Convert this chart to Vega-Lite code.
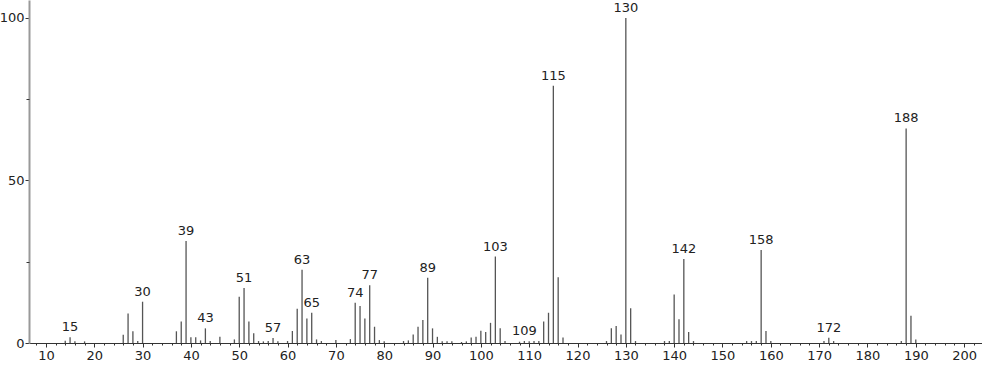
{
  "$schema": "https://vega.github.io/schema/vega-lite/v6.json",
  "width": 953,
  "height": 343,
  "autosize": {"type": "none"},
  "padding": {"left": 29, "top": 0, "right": 0, "bottom": 22},
  "background": "white",
  "config": {"view": {"stroke": null}, "font": "DejaVu Sans"},
  "data": {"values": [
    {"mz": 14, "i": 0.7}, {"mz": 15, "i": 1.8, "lab": "15"}, {"mz": 16, "i": 0.5}, {"mz": 18, "i": 0.5},
    {"mz": 26, "i": 2.5}, {"mz": 27, "i": 9.1}, {"mz": 28, "i": 3.6}, {"mz": 29, "i": 0.6}, {"mz": 30, "i": 12.7, "lab": "30"},
    {"mz": 37, "i": 3.6}, {"mz": 38, "i": 6.6}, {"mz": 39, "i": 31.4, "lab": "39"}, {"mz": 40, "i": 1.8}, {"mz": 41, "i": 1.8},
    {"mz": 42, "i": 0.8}, {"mz": 43, "i": 4.5, "lab": "43"}, {"mz": 44, "i": 0.6}, {"mz": 46, "i": 1.9}, {"mz": 49, "i": 1.1},
    {"mz": 50, "i": 14.2}, {"mz": 51, "i": 16.9, "lab": "51"}, {"mz": 52, "i": 6.6}, {"mz": 53, "i": 3.0}, {"mz": 54, "i": 0.6},
    {"mz": 55, "i": 0.5}, {"mz": 56, "i": 0.6}, {"mz": 57, "i": 1.5, "lab": "57"}, {"mz": 58, "i": 0.5}, {"mz": 60, "i": 0.6},
    {"mz": 61, "i": 3.7}, {"mz": 62, "i": 10.5}, {"mz": 63, "i": 22.5, "lab": "63"}, {"mz": 64, "i": 7.5}, {"mz": 65, "i": 9.3, "lab": "65"},
    {"mz": 66, "i": 1.1}, {"mz": 67, "i": 0.6}, {"mz": 70, "i": 0.9}, {"mz": 73, "i": 1.2}, {"mz": 74, "i": 12.4, "lab": "74"},
    {"mz": 75, "i": 11.4}, {"mz": 76, "i": 7.5}, {"mz": 77, "i": 17.8, "lab": "77"}, {"mz": 78, "i": 5.0}, {"mz": 79, "i": 0.9},
    {"mz": 80, "i": 0.5}, {"mz": 84, "i": 0.6}, {"mz": 85, "i": 0.8}, {"mz": 86, "i": 2.6}, {"mz": 87, "i": 5.0}, {"mz": 88, "i": 7.1},
    {"mz": 89, "i": 20.1, "lab": "89"}, {"mz": 90, "i": 4.5}, {"mz": 91, "i": 1.9}, {"mz": 92, "i": 0.5}, {"mz": 93, "i": 0.5},
    {"mz": 94, "i": 0.5}, {"mz": 96, "i": 0.3}, {"mz": 97, "i": 0.5}, {"mz": 98, "i": 1.7}, {"mz": 99, "i": 1.9}, {"mz": 100, "i": 3.8},
    {"mz": 101, "i": 3.4}, {"mz": 102, "i": 6.2}, {"mz": 103, "i": 26.6, "lab": "103"}, {"mz": 104, "i": 4.5}, {"mz": 105, "i": 0.6},
    {"mz": 108, "i": 0.4}, {"mz": 109, "i": 0.6, "lab": "109"}, {"mz": 110, "i": 0.5}, {"mz": 111, "i": 0.6}, {"mz": 112, "i": 0.6},
    {"mz": 113, "i": 6.6}, {"mz": 114, "i": 9.3}, {"mz": 115, "i": 79.1, "lab": "115"}, {"mz": 116, "i": 20.2}, {"mz": 117, "i": 1.7},
    {"mz": 126, "i": 0.6}, {"mz": 127, "i": 4.5}, {"mz": 128, "i": 5.2}, {"mz": 129, "i": 2.6}, {"mz": 130, "i": 100, "lab": "130"},
    {"mz": 131, "i": 10.7}, {"mz": 132, "i": 0.6}, {"mz": 138, "i": 0.6}, {"mz": 139, "i": 0.6}, {"mz": 140, "i": 14.9},
    {"mz": 141, "i": 7.3}, {"mz": 142, "i": 25.8, "lab": "142"}, {"mz": 143, "i": 3.4}, {"mz": 144, "i": 0.6},
    {"mz": 155, "i": 0.6}, {"mz": 156, "i": 0.6}, {"mz": 157, "i": 0.6}, {"mz": 158, "i": 28.6, "lab": "158"}, {"mz": 159, "i": 3.7},
    {"mz": 160, "i": 0.6}, {"mz": 171, "i": 0.6}, {"mz": 172, "i": 1.6, "lab": "172"}, {"mz": 173, "i": 0.6},
    {"mz": 187, "i": 0.6}, {"mz": 188, "i": 66.0, "lab": "188"}, {"mz": 189, "i": 8.4}, {"mz": 190, "i": 1.1}
  ]},
  "resolve": {"axis": {"x": "independent", "y": "independent"}},
  "layer": [
    {
      "mark": {"type": "rule", "color": "#555", "strokeWidth": 1.3},
      "encoding": {
        "x": {"field": "mz", "type": "quantitative", "scale": {"domain": [6.5, 203.7], "nice": false, "zero": false},
          "axis": {"title": null, "orient": "bottom", "values": [10,20,30,40,50,60,70,80,90,100,110,120,130,140,150,160,170,180,190,200],
            "labelOverlap": false, "labelFlush": false,
            "grid": false, "tickSize": 4, "tickColor": "#333", "domainColor": "#333", "domainWidth": 1,
            "labelFontSize": 13, "labelColor": "#222", "labelPadding": 2, "labelFont": "DejaVu Sans"}},
        "y": {"field": "i", "type": "quantitative", "scale": {"domain": [0, 105.5], "nice": false},
          "axis": {"title": null, "orient": "left", "values": [0, 50, 100],
            "grid": false, "tickSize": 4, "tickColor": "#333", "domainColor": "#999", "domainWidth": 2,
            "labelFontSize": 13, "labelColor": "#222", "labelPadding": 1, "labelFont": "DejaVu Sans"}},
        "y2": {"datum": 0}
      }
    },
    {
      "transform": [{"filter": "isValid(datum.lab)"}],
      "mark": {"type": "text", "baseline": "bottom", "dy": -3, "fontSize": 13, "color": "#222", "font": "DejaVu Sans"},
      "encoding": {
        "x": {"field": "mz", "type": "quantitative",
          "axis": {"title": null, "orient": "bottom", "values": [8,12,14,16,18,22,24,26,28,32,34,36,38,42,44,46,48,52,54,56,58,62,64,66,68,72,74,76,78,82,84,86,88,92,94,96,98,102,104,106,108,112,114,116,118,122,124,126,128,132,134,136,138,142,144,146,148,152,154,156,158,162,164,166,168,172,174,176,178,182,184,186,188,192,194,196,198,202],
            "labels": false, "domain": false, "grid": false, "tickSize": 2, "tickColor": "#333"}},
        "y": {"field": "i", "type": "quantitative",
          "axis": {"title": null, "orient": "left", "values": [25, 75], "labels": false, "domain": false, "grid": false, "tickSize": 3, "tickColor": "#333"}},
        "text": {"field": "lab"}
      }
    }
  ]
}
